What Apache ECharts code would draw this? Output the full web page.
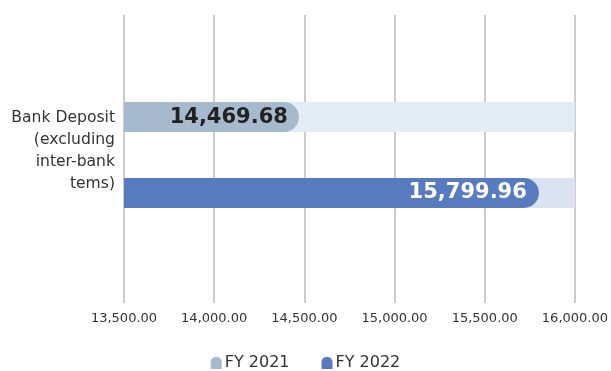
<!DOCTYPE html>
<html>
<head>
<meta charset="utf-8">
<script src="https://cdn.jsdelivr.net/npm/echarts@6/dist/echarts.min.js"></script>
<style>html,body{margin:0;padding:0;background:#fff}#c{width:611px;height:371px}</style>
</head>
<body>
<div id="c"></div>
<script>
var categories = ['Bank Deposit\n(excluding\ninter-bank\ntems)'];
var seriesNames = ['FY 2021', 'FY 2022'];
var fy2021 = [14469.68];
var fy2022 = [15799.96];
var xMin = 13500, xMax = 16000, xInterval = 500;

function fmt(v) {
  return Number(v).toLocaleString('en-US', {minimumFractionDigits: 2, maximumFractionDigits: 2});
}
var font = '"DejaVu Sans", Verdana, sans-serif';
var icon = 'path://M0,12 L0,5 A5,5 0 0 1 5,0 L6,0 A5,5 0 0 1 11,5 L11,12 Z';

var chart = echarts.init(document.getElementById('c'), null, {renderer: 'canvas'});
chart.setOption({
  animation: false,
  textStyle: {fontFamily: font},
  grid: {left: 124, right: 34, top: 15, bottom: 76, containLabel: false},
  legend: {
    top: 350, left: 'center',
    itemWidth: 11, itemHeight: 13, itemGap: 32,
    textStyle: {fontSize: 16, color: '#333', fontFamily: font, padding: [0, 0, 0, -2]},
    data: [{name: seriesNames[0], icon: icon}, {name: seriesNames[1], icon: icon}]
  },
  xAxis: {
    type: 'value', min: xMin, max: xMax, interval: xInterval,
    axisLine: {show: false},
    axisTick: {show: true, length: 8, lineStyle: {color: '#cccccc', width: 2}},
    splitLine: {show: true, lineStyle: {color: '#cccccc', width: 2}},
    axisLabel: {fontSize: 13, color: '#333', margin: 17, fontFamily: font, formatter: fmt}
  },
  yAxis: {
    type: 'category', data: categories,
    axisLine: {show: false}, axisTick: {show: false},
    axisLabel: {
      fontSize: 15.6, lineHeight: 22, color: '#333', align: 'right', margin: 9, fontFamily: font,
      formatter: function (v) { return v + '\n{s| }'; },
      rich: {s: {fontSize: 4, lineHeight: 9, height: 9}}
    }
  },
  series: [
    {
      name: seriesNames[0], type: 'bar', data: fy2021,
      barWidth: 30, barGap: '153%',
      itemStyle: {color: '#a6b9cd', borderRadius: [0, 15, 15, 0]},
      showBackground: true, backgroundStyle: {color: '#e2ecf4'},
      label: {show: true, position: 'insideRight', distance: 11, color: '#222', fontWeight: 'bold', fontSize: 21, fontFamily: font,
        formatter: function (p) { return fmt(p.value); }}
    },
    {
      name: seriesNames[1], type: 'bar', data: fy2022,
      barWidth: 30,
      itemStyle: {color: '#587bbf', borderRadius: [0, 15, 15, 0]},
      showBackground: true, backgroundStyle: {color: '#dbe2f1'},
      label: {show: true, position: 'insideRight', distance: 12, color: '#ffffff', fontWeight: 'bold', fontSize: 21, fontFamily: font,
        formatter: function (p) { return fmt(p.value); }}
    }
  ]
});
</script>
</body>
</html>
